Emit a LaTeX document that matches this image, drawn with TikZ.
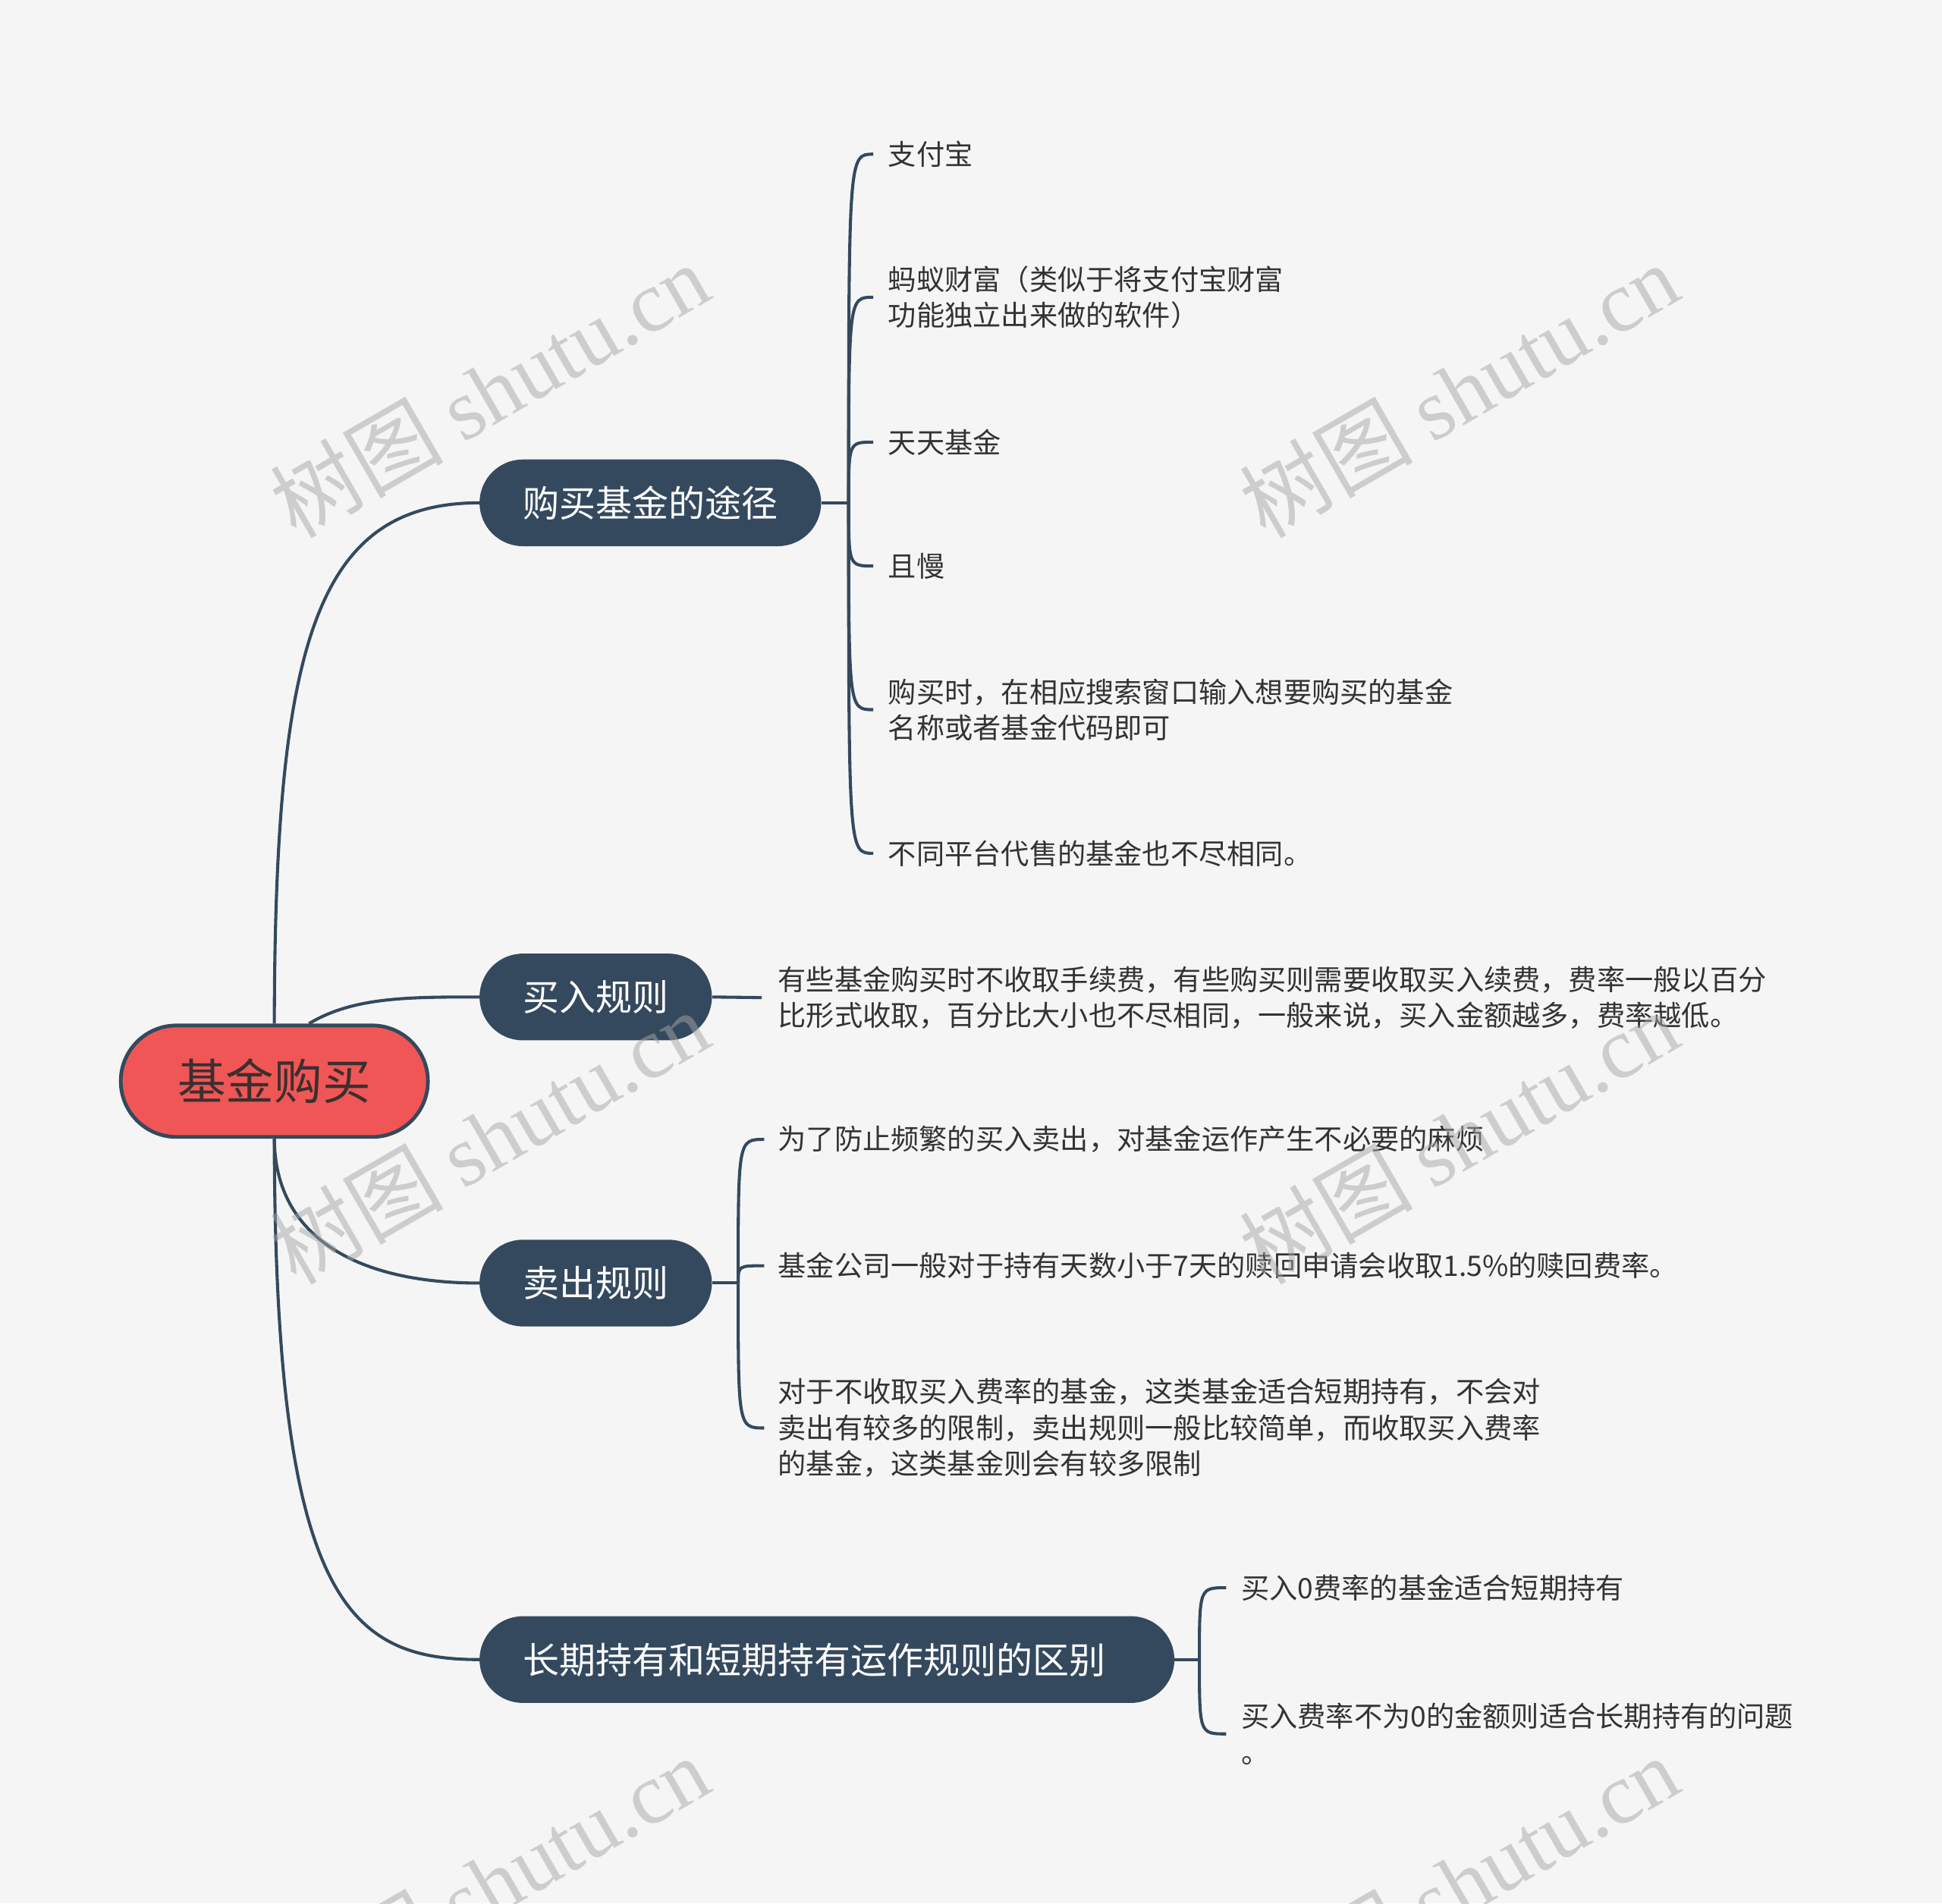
\documentclass[tikz,border=0pt]{standalone}
\usepackage{fontspec}
\setmainfont{Noto Sans CJK SC}
\newfontfamily\wmlatin{Liberation Serif}
\usepackage{tikz}
\usetikzlibrary{
  calc,%
  positioning
}
\definecolor{navy}{HTML}{34495E}
\definecolor{rootred}{HTML}{F05656}
\definecolor{paper}{HTML}{F5F5F5}
\definecolor{leafink}{HTML}{333333}
\definecolor{rootink}{HTML}{3B2F2F}
\tikzset{>=latex}
\tikzset{font=\normalsize}
\tikzset{rootbox/.style={draw=navy, fill=rootred, line width=3pt, text=rootink,
    rounded corners=45pt, minimum height=90pt, inner xsep=46pt,
    font=\fontsize{39}{45}\selectfont},
  branchbox/.style={fill=navy, text=white, rounded corners=35pt,
    minimum height=70pt, inner xsep=35pt, font=\fontsize{29.4}{35}\selectfont},
  leaftxt/.style={anchor=west, align=left, inner sep=0pt, text=leafink,
    font=\fontsize{22.8}{29}\selectfont},
  link/.style={draw=navy, line width=2.5pt},
  wmark/.style={rotate=30, text=black!35, opacity=.5,
    font=\fontsize{70}{70}\selectfont}}

\begin{document}
\begin{tikzpicture}[x=1pt, y=-1pt]
  \fill[paper] (0,0) rectangle (1568,1537);
  \useasboundingbox (0,0) rectangle (1568,1537);

  % root and branches
  \node[rootbox] (root) at (221.5,873) {基金购买};
  \node[branchbox, anchor=west] (b1) at (387,406) {购买基金的途径};
  \node[branchbox, anchor=west] (b2) at (387,805) {买入规则};
  \node[branchbox, anchor=west] (b3) at (387,1036) {卖出规则};
  \node[branchbox, anchor=west, text width=491pt, align=left] (b4) at (387,1340) {长期持有和短期持有运作规则的区别};

  \draw[link] (root.north) .. controls (222,520) and (255,406) .. (b1.west);
  \draw[link] ([xshift=28pt]root.north) .. controls (285,805) and (330,805) .. (b2.west);
  \draw[link] (root.south) .. controls (222,1000) and (290,1036) .. (b3.west);
  \draw[link] (root.south) .. controls (222,1290) and (280,1340) .. (b4.west);

  % leaves
  \node[leaftxt] (l11) at (717,124.5) {支付宝};
  \node[leaftxt] (l12) at (717,240) {蚂蚁财富（类似于将支付宝财富\\功能独立出来做的软件）};
  \node[leaftxt] (l13) at (717,357) {天天基金};
  \node[leaftxt] (l14) at (717,457) {且慢};
  \node[leaftxt] (l15) at (717,573) {购买时，在相应搜索窗口输入想要购买的基金\\名称或者基金代码即可};
  \node[leaftxt] (l16) at (717,689) {不同平台代售的基金也不尽相同。};

  \node[leaftxt] (l21) at (628,805.5) {有些基金购买时不收取手续费，有些购买则需要收取买入续费，费率一般以百分\\比形式收取，百分比大小也不尽相同，一般来说，买入金额越多，费率越低。};

  \node[leaftxt] (l31) at (628,920) {为了防止频繁的买入卖出，对基金运作产生不必要的麻烦};
  \node[leaftxt] (l32) at (628,1022) {基金公司一般对于持有天数小于7天的赎回申请会收取1.5\%的赎回费率。};
  \node[leaftxt] (l33) at (628,1153) {对于不收取买入费率的基金，这类基金适合短期持有，不会对\\卖出有较多的限制，卖出规则一般比较简单，而收取买入费率\\的基金，这类基金则会有较多限制};

  \node[leaftxt] (l41) at (1002,1282) {买入0费率的基金适合短期持有};
  \node[leaftxt] (l42) at (1002,1400) {买入费率不为0的金额则适合长期持有的问题\\。};

  \coordinate (j1) at ([xshift=22pt]b1.east);
  \coordinate (j3) at ([xshift=21pt]b3.east);
  \coordinate (j4) at ([xshift=20pt]b4.east);

  \draw[link] (b1.east) -- (j1);
  \foreach \leaf in {l11,l12,l13,l14,l15,l16}
    \draw[link] (j1) .. controls (j1 |- \leaf.west) .. ([xshift=-12pt]\leaf.west);

  \draw[link] (b2.east) -- ([xshift=-13pt]l21.west);

  \draw[link] (b3.east) -- (j3);
  \foreach \leaf in {l31,l32,l33}
    \draw[link] (j3) .. controls (j3 |- \leaf.west) .. ([xshift=-11pt]\leaf.west);

  \draw[link] (b4.east) -- (j4);
  \foreach \leaf in {l41,l42}
    \draw[link] (j4) .. controls (j4 |- \leaf.west) .. ([xshift=-12pt]\leaf.west);

  % watermark
  \foreach \wx/\wy [count=\w] in {395/315,1178/315,395/918,1178/918,395/1520,1178/1520}
    \node[wmark] (wm\w) at (\wx,\wy) {树图 {\wmlatin shutu.cn}};
\end{tikzpicture}
\end{document}
